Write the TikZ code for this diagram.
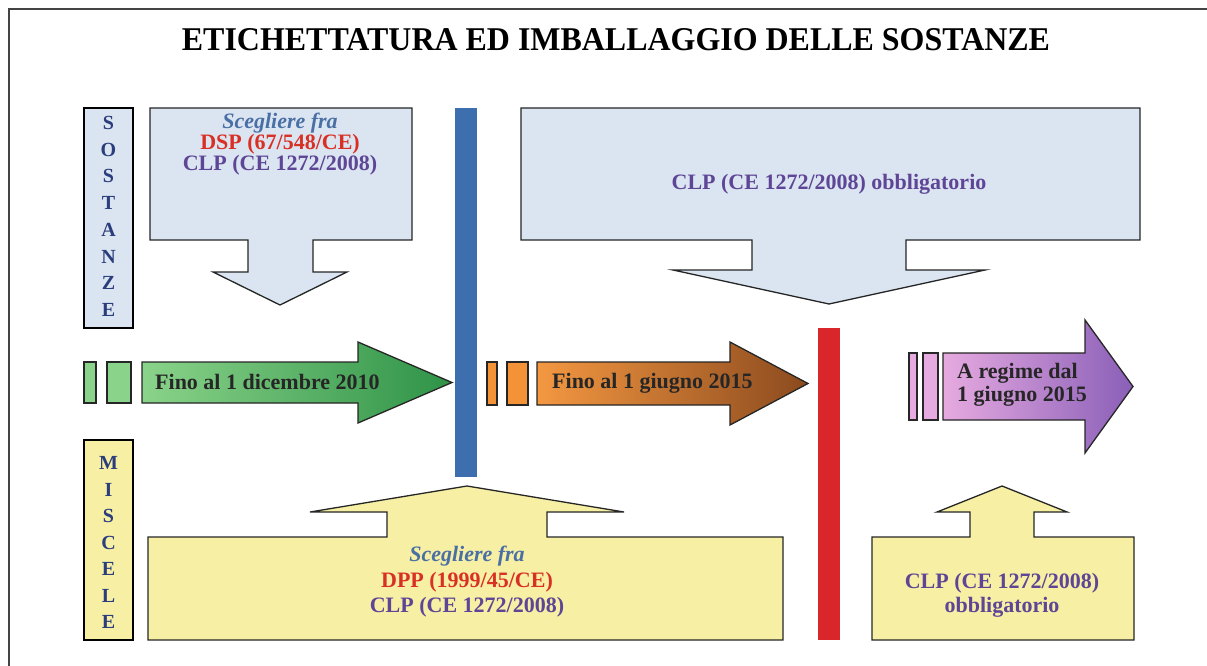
\documentclass[tikz,border=0pt]{standalone}
\usepackage{fontspec}
\setmainfont{Liberation Serif}
\usepackage{graphicx}
\definecolor{lblue}{HTML}{DAE5F1}
\definecolor{lyellow}{HTML}{F6EFA4}
\definecolor{barblue}{HTML}{3D6FAE}
\definecolor{barred}{HTML}{D9262A}
\definecolor{txtred}{HTML}{D93025}
\definecolor{txtpurple}{HTML}{5E4596}
\definecolor{txtblue}{HTML}{4A6FA5}
\definecolor{letblue}{HTML}{2B3D7C}
\definecolor{gA}{HTML}{8AD38A}
\definecolor{gB}{HTML}{2E9347}
\definecolor{oA}{HTML}{F39237}
\definecolor{oB}{HTML}{8B4A1E}
\definecolor{pA}{HTML}{E6AAE0}
\definecolor{pB}{HTML}{8A5FB8}
\definecolor{frame}{HTML}{444444}
\begin{document}
\begin{tikzpicture}[x=1pt,y=-1pt,
  shapeline/.style={draw=black!85, line width=1.3pt, line join=miter},
  lbox/.style={draw=black, line width=2pt},
  base/.style={inner sep=0pt, font=\fontsize{22}{24}\selectfont\bfseries},
  ttl/.style={inner sep=0pt, font=\bfseries},
  vlet/.style={inner sep=0pt, font=\fontsize{20}{22}\selectfont\bfseries, text=letblue},
  choose/.style={base, font=\fontsize{22}{24}\selectfont\bfseries\itshape, text=txtblue},
  redtxt/.style={base, text=txtred},
  clptxt/.style={base, text=txtpurple},
  arrtxt/.style={base, anchor=west, text=black!85},
]
\useasboundingbox (0,0) rectangle (1207,666);
\fill[white] (0,0) rectangle (1207,666);
% frame
\draw[frame, line width=2pt] (1207,9) -- (9,9) -- (9,666);

% title
\node[ttl] (title) at (616,39.5) {\resizebox{868pt}{22pt}{ETICHETTATURA ED IMBALLAGGIO DELLE SOSTANZE}};

% side label boxes
\draw[lbox, fill=lblue] (84,108) rectangle (133,328);
\draw[lbox, fill=lyellow] (84,440) rectangle (133,640);
\foreach \l [count=\i from 0] in {S,O,S,T,A,N,Z,E}
  \node[vlet] (sost\i) at (108.5,{123+26.7*\i}) {\l};
\foreach \l [count=\i from 0] in {M,I,S,C,E,L,E}
  \node[vlet] (misc\i) at (108.5,{463+26.5*\i}) {\l};

% top-left callout
\draw[shapeline, fill=lblue] (150,108) -- (412,108) -- (412,240) -- (313,240) -- (313,272)
  -- (347,272) -- (280,305) -- (213,272) -- (248,272) -- (248,240) -- (150,240) -- cycle;
\node[choose] (tl1) at (280,123) {Scegliere fra};
\node[redtxt] (tl2) at (280,144.5) {DSP (67/548/CE)};
\node[clptxt] (tl3) at (280,165.5) {CLP (CE 1272/2008)};

% top-right callout
\draw[shapeline, fill=lblue] (521,108) -- (1140,108) -- (1140,240) -- (906,240) -- (906,270)
  -- (985,270) -- (829,304) -- (673,270) -- (752,270) -- (752,240) -- (521,240) -- cycle;
\node[clptxt] (tr1) at (829,184) {CLP (CE 1272/2008) obbligatorio};

% bars
\fill[barblue] (455,108) rectangle (477,477);
\fill[barred] (818,328) rectangle (840,640);

% green arrow
\draw[black!85, line width=1.2pt, fill=gA] (84,362) rectangle (96,403);
\draw[black!85, line width=1.2pt, fill=gA] (107,362) rectangle (131,403);
\path[shapeline, left color=gA, right color=gB] (142,362) -- (358,362) -- (358,342) -- (452,382.5)
  -- (358,423) -- (358,403) -- (142,403) -- cycle;
\node[arrtxt] (g1) at (155,382) {Fino al 1 dicembre 2010};

% orange arrow
\draw[black!85, line width=1.2pt, fill=oA] (487,362) rectangle (497,405);
\draw[black!85, line width=1.2pt, fill=oA] (507,362) rectangle (528,405);
\path[shapeline, left color=oA!95!white, right color=oB] (537,362) -- (730,362) -- (730,342) -- (808,383.5)
  -- (730,425) -- (730,405) -- (537,405) -- cycle;
\node[arrtxt] (o1) at (552,383) {Fino al 1 giugno 2015};

% purple arrow
\draw[black!85, line width=1.2pt, fill=pA] (909,353) rectangle (917,420);
\draw[black!85, line width=1.2pt, fill=pA] (923,353) rectangle (938,420);
\path[shapeline, left color=pA, right color=pB] (943,353) -- (1085,353) -- (1085,320) -- (1133,386.5)
  -- (1085,453) -- (1085,420) -- (943,420) -- cycle;
\node[arrtxt] (p1) at (957,373) {A regime dal};
\node[arrtxt] (p2) at (957,396) {1 giugno 2015};

% bottom-left callout
\draw[shapeline, fill=lyellow] (148,640) -- (783,640) -- (783,537) -- (547,537) -- (547,512)
  -- (624,512) -- (467,486) -- (310,512) -- (387,512) -- (387,537) -- (148,537) -- cycle;
\node[choose] (bl1) at (467,556) {Scegliere fra};
\node[redtxt] (bl2) at (467,582) {DPP (1999/45/CE)};
\node[clptxt] (bl3) at (467,607.5) {CLP (CE 1272/2008)};

% bottom-right callout
\draw[shapeline, fill=lyellow] (872,640) -- (1134,640) -- (1134,537) -- (1034,537) -- (1034,512)
  -- (1067,512) -- (1002,486) -- (937,512) -- (970,512) -- (970,537) -- (872,537) -- cycle;
\node[clptxt] (br1) at (1002,583) {CLP (CE 1272/2008)};
\node[clptxt] (br2) at (1002,607) {obbligatorio};
\end{tikzpicture}
\end{document}
